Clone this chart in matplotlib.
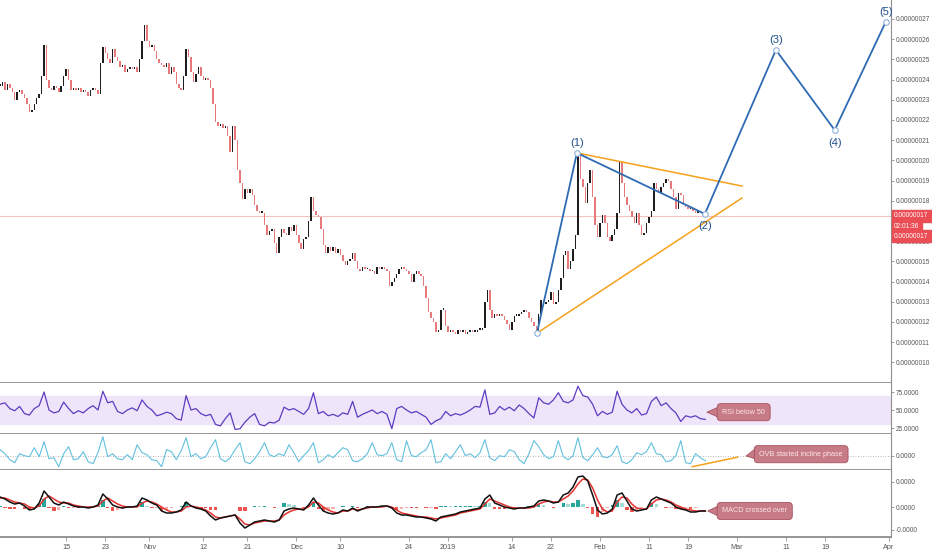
import numpy as np
import pandas as pd
import matplotlib
matplotlib.use('Agg')
import matplotlib.pyplot as plt
import matplotlib.dates as mdates
from matplotlib.ticker import FixedLocator, FormatStrFormatter

plt.rcParams['font.family'] = ['Liberation Sans', 'DejaVu Sans']

# 12h closes, price in units of 1e-8
closes = [
    23.7, 23.9, 23.5, 23.8, 23.6, 23.4, 23.0, 23.4, 23.5, 23.3,
    23.1, 22.8, 22.4, 22.5, 22.8, 23.1, 23.3, 24.2, 25.7, 24.0,
    23.6, 23.5, 23.7, 23.6, 23.4, 23.7, 24.2, 24.5, 24.0, 23.5,
    23.6, 23.5, 23.6, 23.4, 23.5, 23.4, 23.2, 23.5, 23.6, 23.5,
    23.3, 24.8, 25.6, 25.3, 25.0, 24.8, 25.5, 25.1, 24.9, 24.6,
    24.7, 24.4, 24.5, 24.6, 24.5, 24.6, 24.4, 25.0, 25.9, 26.7,
    25.9, 25.6, 25.7, 25.4, 25.0, 24.8, 24.7, 24.6, 24.8, 24.3,
    24.6, 24.4, 23.8, 23.6, 23.5, 24.2, 25.5, 25.1, 24.4, 23.9,
    24.3, 24.6, 24.2, 24.0, 24.1, 24.0, 23.6, 22.8, 21.9, 21.7,
    21.8, 21.6, 21.7, 21.2, 20.4, 21.7, 21.0, 19.5, 18.9, 18.1,
    18.6, 18.4, 18.6, 18.3, 17.8, 17.5, 17.4, 17.4, 16.8, 16.3,
    16.5, 16.6, 15.9, 15.4, 16.2, 16.6, 16.4, 16.3, 16.7, 16.5,
    16.8, 16.3, 15.9, 15.6, 16.1, 16.2, 17.0, 18.2, 17.5, 17.3,
    17.2, 16.6, 15.8, 15.4, 15.7, 15.5, 15.7, 15.4, 15.6, 15.3,
    15.0, 14.8, 15.0, 15.1, 15.4, 15.0, 14.6, 14.5, 14.7, 14.6,
    14.6, 14.5, 14.5, 14.4, 14.7, 14.6, 14.7, 14.6, 14.5, 13.8,
    14.0, 14.2, 14.4, 14.6, 14.7, 14.6, 14.5, 14.4, 14.0, 14.4,
    14.5, 14.4, 14.3, 13.8, 13.2, 12.5, 12.2, 12.0, 11.5, 11.6,
    12.6, 12.6, 11.8, 11.5, 11.6, 11.5, 11.4, 11.6, 11.5, 11.6,
    11.4, 11.5, 11.6, 11.5, 11.5, 11.6, 11.6, 11.7, 13.0, 13.6,
    12.6, 12.2, 12.4, 12.3, 12.4, 12.3, 12.1, 11.9, 11.6, 12.0,
    12.3, 12.3, 12.4, 12.5, 12.6, 12.5, 12.2, 12.0, 11.8, 11.5,
    12.4, 13.1, 12.9, 13.0, 13.1, 13.5, 12.9, 13.0, 13.6, 14.2,
    15.3, 15.5, 14.6, 15.0, 15.6, 16.3, 20.2, 19.1, 18.7, 17.9,
    18.9, 19.5, 18.2, 16.8, 16.2, 16.9, 17.3, 16.9, 16.2, 16.0,
    16.3, 16.6, 17.4, 19.9, 18.9, 18.2, 17.8, 17.5, 17.2, 16.9,
    17.4, 16.8, 16.3, 16.4, 16.9, 17.2, 17.5, 18.9, 18.6, 18.4,
    18.7, 18.9, 19.1, 19.0, 18.6, 18.2, 17.6, 18.4, 18.3, 17.8,
    17.7, 17.6, 17.6, 17.5, 17.4, 17.5, 17.4, 17.3, 17.25,
]

# daily indicator readings
rsi = [
    58, 60, 52, 49, 55, 45, 43, 52, 56, 75, 50, 46, 48, 61, 52, 45, 49, 46, 52, 56,
    50, 76, 60, 62, 48, 45, 50, 53, 49, 64, 55, 50, 42, 44, 47, 45, 38, 36, 70, 50,
    52, 45, 42, 44, 30, 28, 38, 46, 23, 24, 33, 40, 45, 30, 28, 33, 32, 36, 54, 50,
    52, 48, 44, 52, 74, 45, 48, 42, 44, 41, 46, 44, 62, 40, 44, 47, 50, 45, 48, 44,
    24, 52, 55, 50, 46, 48, 44, 40, 30, 35, 38, 48, 42, 45, 43, 46, 50, 55, 54, 78,
    44, 46, 55, 50, 54, 49, 57, 52, 45, 39, 67, 60, 58, 64, 74, 62, 60, 64, 83, 70,
    68, 58, 42, 48, 44, 47, 76, 58, 50, 46, 52, 43, 45, 62, 68, 56, 60, 52, 46, 34,
    42, 40, 42, 38, 37,
]
obv = [
    6, 2, -4, -7, 2, 0, -1, 8, -1, 14, -3, -2, -11, 2, 9, -4, -3, 4, -6, -8,
    3, 19, -1, 2, -3, -4, 1, -4, 11, 3, 1, -4, -5, -11, 6, 4, -4, 5, 18, -1,
    2, -3, -1, 8, 16, -3, -6, -2, 6, 13, -6, -8, -3, 4, 13, 1, -1, 2, 0, 11,
    3, -6, 0, 5, 13, -7, -4, 1, -2, 3, 8, 6, -5, -6, -3, 2, 13, 1, 0, 2,
    13, -4, -6, 15, 0, -1, 3, 6, 16, -7, -6, 2, -3, 4, 11, 0, 2, -2, 3, 16,
    -2, -5, 0, -1, 6, 4, -4, -8, 2, 15, 9, 1, -3, -1, 15, -1, -4, 0, 18, -2,
    -5, 1, 8, -1, -2, 1, 10, -6, -8, -4, 3, 1, 4, 13, 2, 1, -6, -5, 0, 15,
    -7, -8, 2, -2, -5,
]
macd = [
    10, 8, 5, 3, 4, 1, -3, -2, 4, 16, 10, 4, 2, 5, 3, 1, 0, 0, -1, 0,
    2, 13, 8, 2, 0, -1, 0, 0, 1, 9, 7, 4, 2, -4, -6, -6, -5, -3, 5, 1,
    -1, -2, -4, -9, -13, -11, -10, -9, -8, -16, -21, -18, -15, -14, -13, -14, -15, -13, -4, -2,
    -1, -2, -3, 2, 9, 2, -4, -6, -7, -6, -3, -4, -1, -4, -2, 0, 0, 0, 1, 1,
    -1, -6, -8, -8, -9, -10, -10, -11, -12, -14, -10, -9, -8, -7, -5, -4, -3, -2, -1, 8,
    12, 4, 2, 0, -1, -2, -1, -1, 0, 1, 6, 7, 6, 4, 5, 12, 14, 20, 30, 31,
    26, 12, -3, -7, -6, -2, 12, 14, 6, -2, -4, -3, -2, 7, 10, 8, 6, 4, 0, -2,
    -3, -5, -5, -4, -4,
]
signal = [
    9, 9, 7, 5, 4, 3, 0, -1, 1, 8, 11, 8, 5, 4, 4, 2, 1, 0, 0, 0,
    1, 6, 9, 6, 3, 1, 0, 0, 0, 4, 6, 5, 3, 0, -3, -5, -5, -4, 0, 1,
    0, -1, -3, -6, -10, -11, -10, -9, -8, -12, -17, -18, -16, -15, -14, -14, -14, -13, -8, -5,
    -3, -2, -2, 0, 5, 4, 0, -3, -5, -6, -4, -4, -2, -3, -2, -1, 0, 0, 0, 1,
    0, -3, -6, -7, -8, -9, -10, -10, -11, -12, -11, -10, -9, -8, -6, -5, -4, -3, -2, 3,
    8, 6, 4, 2, 0, -1, -1, -1, -1, 0, 3, 5, 6, 5, 5, 8, 11, 16, 23, 28,
    27, 19, 7, -2, -5, -4, 5, 10, 9, 3, -1, -2, -2, 3, 7, 8, 7, 5, 2, 0,
    -2, -3, -4, -4, -4,
]

# elliott wave points and trend lines
wave_dates = ['2019-01-19 03:00', '2019-01-27 07:00', '2019-02-22 10:00',
              '2019-03-08 22:00', '2019-03-20 22:00', '2019-03-31 08:00']
wave_prices = [11.45, 20.37, 17.35, 25.47, 21.5, 26.85]
wave_labels = ['', '(1)', '(2)', '(3)', '(4)', '(5)']
upper_line = (['2019-01-27 07:00', '2019-03-02 00:00'], [20.37, 18.73])
lower_line = (['2019-01-19 03:00', '2019-03-02 00:00'], [11.45, 18.14])
obv_line = (['2019-02-19 20:00', '2019-03-01 02:00'], [-11, -1.5])
last_price = 17.25

tick_dates = ['2018-10-15', '2018-10-23', '2018-11-01', '2018-11-12', '2018-11-21',
              '2018-12-01', '2018-12-10', '2018-12-24', '2019-01-01', '2019-01-14',
              '2019-01-22', '2019-02-01', '2019-02-11', '2019-02-19', '2019-03-01',
              '2019-03-11', '2019-03-19', '2019-04-01']
tick_labels = ['15', '23', 'Nov', '12', '21', 'Dec', '10', '24', '2019', '14',
               '22', 'Feb', '11', '19', 'Mar', '11', '19', 'Apr']

p_x = mdates.date2num(pd.date_range('2018-10-01 12:00', periods=len(closes), freq='12h'))
d_x = mdates.date2num(pd.date_range('2018-10-01 12:00', periods=len(rsi), freq='D'))
closes = np.array(closes) * 1e-8
opens = np.r_[closes[0], closes[:-1]]
macd = np.array(macd) * 1e-10
signal = np.array(signal) * 1e-10
hist = macd - signal

def dn(lst):
    return mdates.date2num(pd.to_datetime(lst))

fig = plt.figure(figsize=(9.32, 5.5), dpi=100)
W = 891 / 932
ax_p = fig.add_axes([0, 1 - 383 / 550, W, 383 / 550])
ax_r = fig.add_axes([0, 1 - 434 / 550, W, 51 / 550], sharex=ax_p)
ax_o = fig.add_axes([0, 1 - 470 / 550, W, 36 / 550], sharex=ax_p)
ax_m = fig.add_axes([0, 1 - 537 / 550, W, 67 / 550], sharex=ax_p)

for ax in [ax_p, ax_r, ax_o, ax_m]:
    ax.spines['top'].set_visible(False)
    ax.spines['left'].set_visible(False)
    ax.spines['right'].set_color('#8f8f8f')
    ax.spines['right'].set_linewidth(0.8)
    ax.spines['bottom'].set_color('#8c8c8c')
    ax.spines['bottom'].set_linewidth(1.3)
    ax.yaxis.tick_right()
    ax.tick_params(axis='y', labelsize=4.7, labelcolor='#555555', color='#8f8f8f',
                   length=2.2, width=0.6, pad=1.2)
    ax.tick_params(axis='x', bottom=False, labelbottom=False)

# candles
up = closes >= opens
body_lo = np.minimum(opens, closes)
body_h = np.maximum(np.abs(closes - opens), 0.08e-8)
ax_p.bar(p_x, body_h, bottom=body_lo, width=0.3,
         color=np.where(up, '#1e1e1e', '#e8797b'), linewidth=0)
ax_p.axhline(last_price * 1e-8, color='#f6c3c3', lw=0.8, zorder=0)

wx = dn(wave_dates)
wp = np.array(wave_prices) * 1e-8
ax_p.plot(dn(upper_line[0]), np.array(upper_line[1]) * 1e-8, color='#f5a11c', lw=1.1)
ax_p.plot(dn(lower_line[0]), np.array(lower_line[1]) * 1e-8, color='#f5a11c', lw=1.1)
ax_p.plot(wx, wp, color='#2e6bb3', lw=1.3)
ax_p.plot(wx, wp, 'o', ms=4, mfc='white', mec='#8db0d8', mew=0.8)
for i, lab in enumerate(wave_labels):
    if not lab:
        continue
    dy = 7 if i % 2 == 1 else -9
    ax_p.annotate(lab, (wx[i], wp[i]), xytext=(0, dy), textcoords='offset points',
                  ha='center', va='center', fontsize=8, color='#1e4f8c')

ax_p.set_xlim(mdates.date2num(pd.Timestamp('2018-10-01 12:00')),
              mdates.date2num(pd.Timestamp('2019-04-01 10:00')))
ax_p.set_ylim(8.98e-8, 27.94e-8)
ax_p.yaxis.set_major_locator(FixedLocator(np.arange(10, 28) * 1e-8))
ax_p.yaxis.set_major_formatter(FormatStrFormatter('%.8f'))

# price labels on the axis
red = '#eb4d55'
for txt, dy in [('0.00000017', 0), ('02:01:36', -7.3), ('0.00000017', -14.6)]:
    ax_p.annotate(txt, (1, last_price * 1e-8), xycoords=('axes fraction', 'data'),
                  xytext=(2.2, dy), textcoords='offset points', ha='left', va='center',
                  fontsize=4.7, color='white', annotation_clip=False, zorder=5,
                  bbox=dict(boxstyle='square,pad=0.35', fc=red, ec=red))

# RSI
ax_r.axhspan(30, 70, color='#efe5fb', zorder=0)
ax_r.plot(d_x, rsi, color='#5e3bbf', lw=0.9)
ax_r.set_ylim(16.7, 87.5)
ax_r.yaxis.set_major_locator(FixedLocator([25, 50, 75]))
ax_r.yaxis.set_major_formatter(FormatStrFormatter('%.4f'))

# OBV
ax_o.axhline(0, color='#a0a0a0', lw=0.6, ls=(0, (1, 2)))
ax_o.plot(d_x, obv, color='#62c0e0', lw=0.8)
ax_o.plot(dn(obv_line[0]), obv_line[1], color='#f5a11c', lw=1.1)
ax_o.set_ylim(-14.3, 21.7)
ax_o.yaxis.set_major_locator(FixedLocator([0]))
ax_o.yaxis.set_major_formatter(FormatStrFormatter('%.4f'))

# MACD
prev = np.r_[0, hist[:-1]]
hcol = np.where(hist >= 0, np.where(hist >= prev, '#26a69a', '#a7dcd6'),
                np.where(hist <= prev, '#ef5350', '#f6b0ae'))
ax_m.bar(d_x, hist, width=0.7, color=hcol, linewidth=0)
ax_m.plot(d_x, signal, color='#e2332f', lw=1.1)
ax_m.plot(d_x, macd, color='#111111', lw=1.1)
ax_m.set_ylim(-30e-10, 37e-10)
ax_m.yaxis.set_major_locator(FixedLocator([25e-10, 0, -23e-10]))
ax_m.yaxis.set_major_formatter(FormatStrFormatter('%.4f'))

ax_m.xaxis.set_major_locator(FixedLocator(dn(tick_dates)))
ax_m.set_xticklabels(tick_labels)
ax_m.tick_params(axis='x', bottom=True, labelbottom=True, labelsize=5.2,
                 labelcolor='#555555', color='#8f8f8f', length=3, width=0.6, pad=2)

# callouts: text box with a wedge pointing left to the tip
fill, edge = '#c67b86', '#a9525e'
def callout(ax, text, tip, box_left):
    tx = dn([tip[0]])[0]
    bx = dn([box_left[0]])[0]
    ax.annotate('', xy=(tx, tip[1]), xytext=(bx, box_left[1]), zorder=4,
                arrowprops=dict(arrowstyle='wedge,tail_width=0.75,shrink_factor=0.5',
                                mutation_scale=10, fc=fill, ec=edge, lw=0.6,
                                shrinkA=0, shrinkB=0))
    ax.annotate(text, xy=(bx, box_left[1]), xytext=(2.5, 0), textcoords='offset points',
                ha='left', va='center', fontsize=5.2, color='#fbe6e9', zorder=5,
                bbox=dict(boxstyle='round,pad=0.7,rounding_size=0.5', fc=fill, ec=edge, lw=0.6))

callout(ax_r, 'RSI below 50', ('2019-02-22 20:00', 47), ('2019-02-25 06:00', 47))
callout(ax_o, 'OVB started incline phase', ('2019-03-02 20:00', -0.3), ('2019-03-04 20:00', 1.5))
callout(ax_m, 'MACD crossed over', ('2019-02-23 00:00', -4e-10), ('2019-02-25 06:00', -4e-10))

fig.savefig('out.png', dpi=100)
